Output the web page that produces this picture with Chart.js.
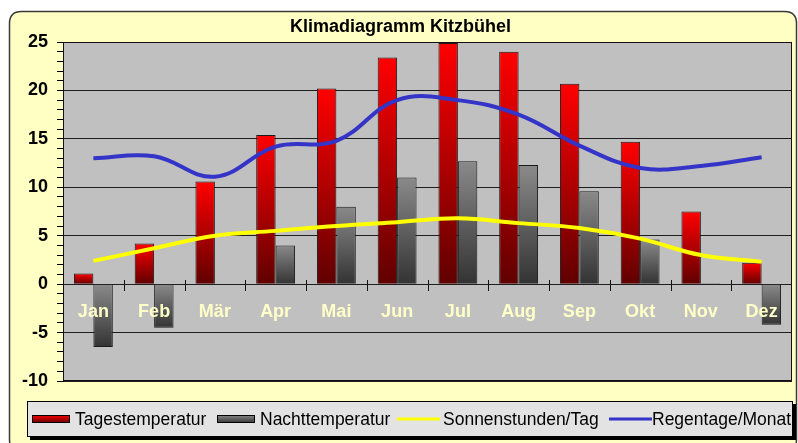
<!DOCTYPE html>
<html>
<head>
<meta charset="utf-8">
<script src="https://cdn.jsdelivr.net/npm/chart.js@4/dist/chart.umd.min.js"></script>
<style>
  html, body { margin: 0; padding: 0; background: #ffffff; }
  #wrap { width: 798px; height: 443px; }
</style>
</head>
<body>
<div id="wrap"><canvas id="c" width="798" height="443"></canvas></div>
<script>
// ---- data ----
const months = ['Jan', 'Feb', 'Mär', 'Apr', 'Mai', 'Jun', 'Jul', 'Aug', 'Sep', 'Okt', 'Nov', 'Dez'];
const tagestemperatur = [1.1, 4.2, 10.6, 15.4, 20.2, 23.4, 24.9, 24.0, 20.7, 14.7, 7.5, 2.2];
const nachttemperatur = [-6.5, -4.5, 0, 4.0, 8.0, 11.0, 12.7, 12.3, 9.6, 4.6, 0.1, -4.2];
const sonnenstunden = [2.4, 3.7, 5.0, 5.5, 6.0, 6.4, 6.8, 6.3, 5.8, 4.7, 3.0, 2.3];
const regentage = [13.0, 13.2, 11.1, 14.2, 14.8, 19.0, 19.0, 17.5, 14.3, 12.0, 12.2, 13.1];
const yTickLabels = [-10, -5, 0, 5, 10, 15, 20, 25];
const seriesNames = ['Tagestemperatur', 'Nachttemperatur', 'Sonnenstunden/Tag', 'Regentage/Monat'];

const RED_TOP = '#ff0000', RED_BOT = '#600000';
const GREY_TOP = '#8a8a8a', GREY_BOT = '#333333';
const FONT = '"Liberation Sans", Arial, sans-serif';

function barGradient(c1, c2) {
  return (ctx) => {
    if (ctx.type !== 'data') return c1;
    const chart = ctx.chart;
    const ys = chart.scales.y;
    if (!ys || !chart.chartArea) return c1;
    const v = ctx.raw;
    let top = ys.getPixelForValue(Math.max(v, 0));
    let bot = ys.getPixelForValue(Math.min(v, 0));
    if (bot - top < 1) bot = top + 1;
    const g = chart.ctx.createLinearGradient(0, top, 0, bot);
    g.addColorStop(0, c1);
    g.addColorStop(1, c2);
    return g;
  };
}

function roundRect(ctx, x, y, w, h, r) {
  ctx.beginPath();
  ctx.moveTo(x + r, y);
  ctx.lineTo(x + w - r, y);
  ctx.quadraticCurveTo(x + w, y, x + w, y + r);
  ctx.lineTo(x + w, y + h - r);
  ctx.quadraticCurveTo(x + w, y + h, x + w - r, y + h);
  ctx.lineTo(x + r, y + h);
  ctx.quadraticCurveTo(x, y + h, x, y + h - r);
  ctx.lineTo(x, y + r);
  ctx.quadraticCurveTo(x, y, x + r, y);
  ctx.closePath();
}

const decorPlugin = {
  id: 'decor',
  beforeDraw(chart) {
    const ctx = chart.ctx;
    const a = chart.chartArea;
    ctx.save();
    ctx.fillStyle = '#ffffff';
    ctx.fillRect(0, 0, chart.width, chart.height);
    // outer frame
    roundRect(ctx, 9.5, 11.5, 787, 440, 12);
    ctx.fillStyle = '#ffffc4';
    ctx.fill();
    ctx.lineWidth = 1.5;
    ctx.strokeStyle = '#3a3a3a';
    ctx.stroke();
    // plot background
    ctx.fillStyle = '#c0c0c0';
    ctx.fillRect(a.left, a.top, a.right - a.left, a.bottom - a.top);
    ctx.restore();
  },
  beforeDatasetsDraw(chart) {
    const ctx = chart.ctx;
    const a = chart.chartArea;
    const xs = chart.scales.x, ys = chart.scales.y;
    ctx.save();
    ctx.strokeStyle = '#111';
    ctx.lineWidth = 1;
    ctx.strokeRect(Math.round(a.left) + 0.5, Math.round(a.top) + 0.5, Math.round(a.right - a.left) - 1, Math.round(a.bottom - a.top) - 1);
    // category separators crossing the zero line
    const y0 = Math.round(ys.getPixelForValue(0));
    ctx.beginPath();
    for (let i = 0; i < months.length - 1; i++) {
      const xp = Math.round((xs.getPixelForValue(i) + xs.getPixelForValue(i + 1)) / 2) + 0.5;
      ctx.moveTo(xp, y0 - 4);
      ctx.lineTo(xp, y0 + 7);
    }
    ctx.stroke();
    ctx.restore();
  },
  afterDraw(chart) {
    const ctx = chart.ctx;
    ctx.save();
    // legend box with shadow
    ctx.fillStyle = '#000000';
    ctx.fillRect(30, 404, 766, 36);
    ctx.fillStyle = '#e3e3e3';
    ctx.fillRect(27, 401, 766, 36);
    ctx.strokeStyle = '#000000';
    ctx.lineWidth = 1;
    ctx.strokeRect(27.5, 401.5, 765, 35);
    ctx.font = '17.5px ' + FONT;
    ctx.textBaseline = 'alphabetic';
    ctx.fillStyle = '#000000';
    const ly = 419;
    const ds = chart.data.datasets;
    const swX = [32, 217, 397, 609];
    const txX = [75, 260, 443, 652];
    ds.forEach((d, i) => {
      if (d.type === 'bar') {
        const g = ctx.createLinearGradient(0, ly - 4, 0, ly + 4);
        g.addColorStop(0, d._top);
        g.addColorStop(1, d._bot);
        ctx.fillStyle = g;
        ctx.fillRect(swX[i], ly - 4, 38, 8);
        ctx.strokeStyle = '#000';
        ctx.lineWidth = 1;
        ctx.strokeRect(swX[i] + 0.5, ly - 3.5, 37, 7);
      } else {
        ctx.strokeStyle = d.borderColor;
        ctx.lineWidth = 3;
        ctx.beginPath();
        ctx.moveTo(swX[i], ly);
        ctx.lineTo(swX[i] + 43, ly);
        ctx.stroke();
      }
      ctx.fillStyle = '#000';
      ctx.fillText(d.label, txX[i], ly + 6);
    });
    ctx.restore();
  }
};

new Chart(document.getElementById('c'), {
  data: {
    labels: months,
    datasets: [
      {
        type: 'bar', label: seriesNames[0], data: tagestemperatur,
        backgroundColor: barGradient(RED_TOP, RED_BOT), _top: RED_TOP, _bot: RED_BOT,
        borderColor: '#1a1a1a', borderWidth: 1, order: 2,
        categoryPercentage: 0.64, barPercentage: 1.0
      },
      {
        type: 'bar', label: seriesNames[1], data: nachttemperatur,
        backgroundColor: barGradient(GREY_TOP, GREY_BOT), _top: GREY_TOP, _bot: GREY_BOT,
        borderColor: '#1a1a1a', borderWidth: 1, order: 2,
        categoryPercentage: 0.64, barPercentage: 1.0
      },
      {
        type: 'line', label: seriesNames[2], data: sonnenstunden,
        borderColor: '#ffff00', borderWidth: 4, pointRadius: 0, tension: 0.4,
        fill: false, order: 1
      },
      {
        type: 'line', label: seriesNames[3], data: regentage,
        borderColor: '#3434c8', borderWidth: 4, pointRadius: 0, tension: 0.4,
        fill: false, order: 0
      }
    ]
  },
  options: {
    responsive: false,
    animation: false,
    devicePixelRatio: 1,
    layout: { padding: { left: 9, right: 6, top: 0, bottom: 62 } },
    plugins: {
      legend: { display: false },
      tooltip: { enabled: false },
      title: {
        display: true,
        text: 'Klimadiagramm Kitzbühel',
        color: '#000',
        font: { family: FONT, size: 18, weight: 'bold' },
        padding: { top: 16, bottom: 4.4 }
      }
    },
    scales: {
      x: {
        type: 'category',
        position: { y: 0 },
        offset: true,
        grid: { display: false, drawTicks: false },
        border: { display: false },
        ticks: {
          z: 1,
          color: '#ffffc8',
          padding: 17,
          font: { family: FONT, size: 18, weight: 'bold' },
          maxRotation: 0, autoSkip: false
        }
      },
      y: {
        min: -10, max: 25,
        afterFit(scale) { scale.width = 54; },
        afterBuildTicks(scale) {
          const t = [];
          for (let v = -10; v <= 25; v++) t.push({ value: v });
          scale.ticks = t;
        },
        ticks: {
          autoSkip: false,
          padding: 9,
          color: '#000',
          font: { family: FONT, size: 18, weight: 'bold' },
          callback: (v) => yTickLabels.includes(v) ? String(v) : ''
        },
        grid: {
          color: (c) => (c.tick && yTickLabels.includes(c.tick.value)) ? '#1e1e1e' : 'rgba(0,0,0,0)',
          tickColor: '#000',
          tickLength: 6,
          lineWidth: 1
        },
        border: { display: true, color: '#000', width: 1 }
      }
    }
  },
  plugins: [decorPlugin]
});
</script>
</body>
</html>
